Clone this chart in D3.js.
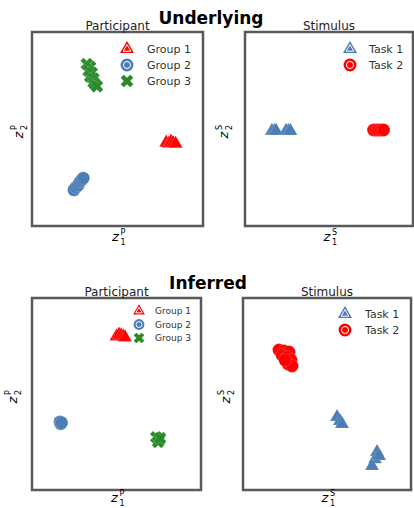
<!DOCTYPE html>
<html>
<head>
<meta charset="utf-8">
<script src="https://cdnjs.cloudflare.com/ajax/libs/d3/7.8.5/d3.min.js"></script>
<style>
  body { margin: 0; background: #fff; }
  svg { display: block; font-family: "DejaVu Sans", sans-serif; }
</style>
</head>
<body>
<div id="chart"></div>
<script>
// valores (coordenadas latentes normalizadas 0..1)
const groupNames = ['Group 1', 'Group 2', 'Group 3']
const taskNames = ['Task 1', 'Task 2']

const underGroup1 = [[0.785, 0.43], [0.8, 0.425], [0.813, 0.435], [0.826, 0.428], [0.84, 0.424]]
const underGroup2 = [[0.245, 0.186], [0.257, 0.2], [0.27, 0.21], [0.28, 0.227], [0.29, 0.237], [0.3, 0.247]]
const underGroup3 = [[0.32, 0.835], [0.34, 0.82], [0.33, 0.8], [0.35, 0.79], [0.34, 0.77], [0.36, 0.76], [0.36, 0.74], [0.37, 0.73], [0.38, 0.72]]

const underTask1 = [[0.16, 0.49], [0.175, 0.49], [0.185, 0.49], [0.244, 0.49], [0.258, 0.49], [0.27, 0.49]]
const underTask2 = [[0.765, 0.495], [0.78, 0.495], [0.795, 0.495], [0.81, 0.495], [0.825, 0.495]]

const inferGroup1 = [[0.5, 0.8], [0.515, 0.81], [0.527, 0.805], [0.54, 0.8], [0.55, 0.795]]
const inferGroup2 = [[0.165, 0.355], [0.17, 0.345], [0.175, 0.35]]
const inferGroup3 = [[0.735, 0.275], [0.752, 0.26], [0.746, 0.25], [0.758, 0.27]]

const inferTask1 = [[0.56, 0.38], [0.577, 0.359], [0.589, 0.344], [0.798, 0.198], [0.786, 0.161], [0.768, 0.125], [0.81, 0.177]]
const inferTask2 = [[0.214, 0.729], [0.244, 0.724], [0.274, 0.719], [0.232, 0.703], [0.262, 0.693], [0.286, 0.677], [0.268, 0.656], [0.292, 0.646], [0.25, 0.677]]

const W = 414, H = 508
const RED = '#ff0000', BLUE = '#4a7db5', GREEN = '#2a8a2a'

const svg = d3.select('#chart').append('svg').attr('width', W).attr('height', H)

// forma de cada marcador
const shape = (type, size) => {
  if (type === 'tri') return d3.symbol(d3.symbolTriangle, size)()
  if (type === 'x') return d3.symbol(d3.symbolCross, size)()
  return d3.symbol(d3.symbolCircle, size)()
}
const rot = type => type === 'x' ? ' rotate(45)' : ''

const sizes = { tri: 85, circle: 130, x: 100 }

// etiqueta tipo z_i^P
const mathLabel = (g, sub, sup) => {
  g.append('text').attr('x', -4).attr('y', 0).attr('font-style', 'italic')
    .attr('font-size', 13).attr('text-anchor', 'middle').text('z')
  g.append('text').attr('x', 1).attr('y', -6).attr('font-size', 8).text(sup)
  g.append('text').attr('x', 1).attr('y', 4).attr('font-size', 8).text(sub)
}

const panel = (box, title, series, legend, supLetter) => {
  const x = d3.scaleLinear().domain([0, 1]).range([box.x0, box.x1])
  const y = d3.scaleLinear().domain([0, 1]).range([box.y1, box.y0])

  series.forEach(s => {
    svg.append('g').selectAll('path')
      .data(s.data)
      .join('path')
      .attr('d', shape(s.type, sizes[s.type]))
      .attr('transform', d => `translate(${x(d[0])},${y(d[1])})${rot(s.type)}`)
      .attr('fill', s.color)
      .attr('stroke', '#fff')
      .attr('stroke-width', 0.4)
      .attr('stroke-opacity', 0.45)
  })

  svg.append('rect')
    .attr('x', box.x0).attr('y', box.y0)
    .attr('width', box.x1 - box.x0).attr('height', box.y1 - box.y0)
    .attr('fill', 'none').attr('stroke', '#595959').attr('stroke-width', 2.5)

  svg.append('text')
    .attr('x', (box.x0 + box.x1) / 2).attr('y', box.y0 - 2)
    .attr('text-anchor', 'middle').attr('font-size', 12).attr('fill', '#222')
    .text(title)

  // leyenda
  const lg = svg.append('g')
  series.forEach((s, i) => {
    const cy = legend.y + i * legend.step
    const sc = legend.scale
    lg.append('path')
      .attr('d', shape(s.type, sizes[s.type] * sc))
      .attr('transform', `translate(${legend.x},${cy})${rot(s.type)}`)
      .attr('fill', s.color)
    if (s.type !== 'x') {
      lg.append('path')
        .attr('d', shape(s.type, sizes[s.type] * sc * 0.3))
        .attr('transform', `translate(${legend.x},${cy})`)
        .attr('fill', 'none').attr('stroke', '#fff').attr('stroke-width', 1)
    }
    lg.append('text')
      .attr('x', legend.tx).attr('y', cy).attr('dy', '0.35em')
      .attr('font-size', legend.font).attr('fill', '#333')
      .text(s.name)
  })

  const cx = (box.x0 + box.x1) / 2
  mathLabel(svg.append('g').attr('transform', `translate(${cx + 2},${box.y1 + legend.xly})`), '1', supLetter)
  mathLabel(svg.append('g').attr('transform', `translate(${box.x0 - legend.ylx},${(box.y0 + box.y1) / 2 + 2}) rotate(-90)`), '2', supLetter)
}

svg.append('text').attr('x', 211).attr('y', 24).attr('text-anchor', 'middle')
  .attr('font-size', 17).attr('font-weight', 'bold').text('Underlying')
svg.append('text').attr('x', 208).attr('y', 289).attr('text-anchor', 'middle')
  .attr('font-size', 17).attr('font-weight', 'bold').text('Inferred')

panel({ x0: 32, x1: 203, y0: 32, y1: 226 }, 'Participant', [
  { name: groupNames[0], type: 'tri', color: RED, data: underGroup1 },
  { name: groupNames[1], type: 'circle', color: BLUE, data: underGroup2 },
  { name: groupNames[2], type: 'x', color: GREEN, data: underGroup3 }
], { x: 127, y: 49, step: 16, tx: 147, font: 11, scale: 1, ylx: 9, xly: 15 }, 'P')

panel({ x0: 245, x1: 413, y0: 32, y1: 226 }, 'Stimulus', [
  { name: taskNames[0], type: 'tri', color: BLUE, data: underTask1 },
  { name: taskNames[1], type: 'circle', color: RED, data: underTask2 }
], { x: 350, y: 49, step: 16, tx: 369, font: 11, scale: 1, ylx: 17, xly: 15 }, 'S')

panel({ x0: 32, x1: 201, y0: 298, y1: 490 }, 'Participant', [
  { name: groupNames[0], type: 'tri', color: RED, data: inferGroup1 },
  { name: groupNames[1], type: 'circle', color: BLUE, data: inferGroup2 },
  { name: groupNames[2], type: 'x', color: GREEN, data: inferGroup3 }
], { x: 139, y: 311, step: 13.5, tx: 155, font: 9, scale: 0.7, ylx: 15, xly: 12 }, 'P')

panel({ x0: 243, x1: 411, y0: 298, y1: 490 }, 'Stimulus', [
  { name: taskNames[0], type: 'tri', color: BLUE, data: inferTask1 },
  { name: taskNames[1], type: 'circle', color: RED, data: inferTask2 }
], { x: 345, y: 314, step: 16, tx: 365, font: 11, scale: 1, ylx: 13, xly: 12 }, 'S')
</script>
</body>
</html>
